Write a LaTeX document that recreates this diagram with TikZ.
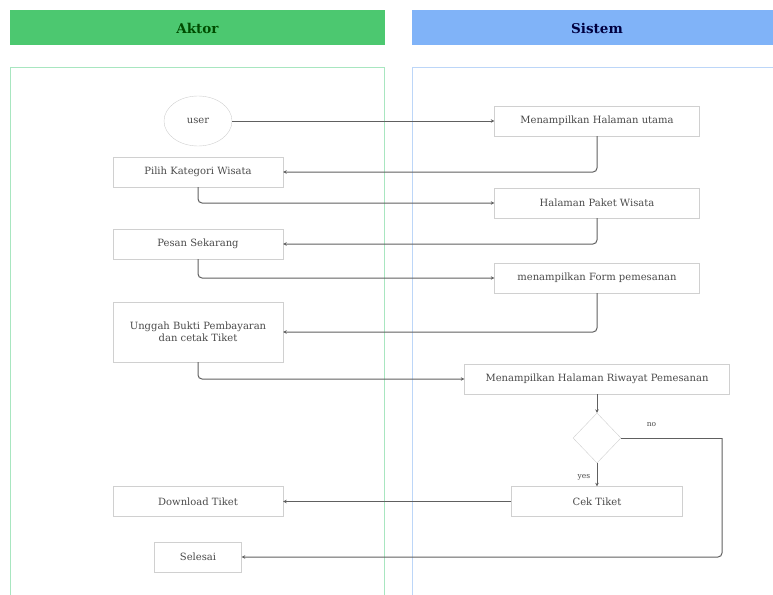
\documentclass[tikz,border=0pt]{standalone}
\usepackage{fontspec}
\setmainfont{DejaVu Serif}
\usetikzlibrary{shapes.geometric,arrows.meta}

\definecolor{aktorgreen}{HTML}{4CC870}
\definecolor{sistemblue}{HTML}{80B3F8}
\definecolor{lanegreen}{HTML}{A8E6C0}
\definecolor{laneblue}{HTML}{BCD6F8}
\definecolor{boxline}{HTML}{D0D0D0}
\definecolor{flowline}{HTML}{606060}
\definecolor{textgray}{HTML}{4A4A4A}

\tikzset{
  stepbox/.style={draw=boxline, fill=white, minimum height=30pt, inner sep=2pt,
    text=textgray, font=\fontsize{10}{12.5}\selectfont, align=center},
  flow/.style={draw=flowline, line width=1pt, rounded corners=4pt,
    -{Stealth[length=3.5pt,width=3.5pt]}},
  flowplain/.style={draw=flowline, line width=1pt, rounded corners=4pt},
  choice/.style={font=\fontsize{7.5}{9}\selectfont, text=textgray}
}

\begin{document}
\begin{tikzpicture}[x=1pt, y=-1pt]
    \useasboundingbox (0, 0) rectangle (773, 594);
    % lanes
    \fill [aktorgreen] (10, 10) rectangle (385, 45);
    \fill [sistemblue] (412, 10) rectangle (773, 45);
    \node [font=\bfseries\fontsize{13.5}{15}\selectfont, text=black!70!green] (aktor) at (197.5, 28) {Aktor};
    \node [font=\bfseries\fontsize{13.5}{15}\selectfont, text=blue!25!black] (sistem) at (597, 28) {Sistem};
    \draw [lanegreen, line width=1pt] (10, 600) -- (10, 67) -- (384, 67) -- (384, 600);
    \draw [laneblue, line width=1pt] (412, 600) -- (412, 67) -- (780, 67);

    % aktor side
    \node [draw=boxline, ellipse, minimum width=68pt, minimum height=50pt, text=textgray,
      font=\fontsize{10}{12.5}\selectfont] (user) at (198, 121) {user};
    \node [stepbox, minimum width=170pt] (pilih) at (198, 172) {Pilih Kategori Wisata};
    \node [stepbox, minimum width=170pt] (pesan) at (198, 244) {Pesan Sekarang};
    \node [stepbox, minimum width=170pt, minimum height=60pt] (unggah) at (198, 332)
      {Unggah Bukti Pembayaran\\dan cetak Tiket};
    \node [stepbox, minimum width=170pt] (download) at (198, 501.5) {Download Tiket};
    \node [stepbox, minimum width=87pt] (selesai) at (198, 557) {Selesai};

    % sistem side
    \node [stepbox, minimum width=205pt] (utama) at (597, 121) {Menampilkan Halaman utama};
    \node [stepbox, minimum width=205pt] (paket) at (597, 203) {Halaman Paket Wisata};
    \node [stepbox, minimum width=205pt] (form) at (597, 278) {menampilkan Form pemesanan};
    \node [stepbox, minimum width=265pt] (riwayat) at (597, 379) {Menampilkan Halaman Riwayat Pemesanan};
    \node [draw=boxline, diamond, minimum width=48pt, minimum height=50pt, inner sep=0pt] (cek) at (597, 438) {};
    \node [stepbox, minimum width=171pt] (tiket) at (597, 501.5) {Cek Tiket};
    \coordinate (noturn) at (722, 438);

    % flow
    \draw [flow] (user) -- (utama);
    \draw [flow] (utama.south) |- (pilih.east);
    \draw [flow] (pilih.south) |- (paket.west);
    \draw [flow] (paket.south) |- (pesan.east);
    \draw [flow] (pesan.south) |- (form.west);
    \draw [flow] (form.south) |- (unggah.east);
    \draw [flow] (unggah.south) |- (riwayat.west);
    \draw [flow] (riwayat) -- (cek);
    \draw [flow] (cek) -- (tiket) node [choice, pos=0.6, left=3pt] {yes};
    \draw [flowplain] (cek.east) -- (noturn) node [choice, pos=0.3, above=8pt] {no};
    \draw [flow] (noturn) |- (selesai.east);
    \draw [flow] (tiket) -- (download);
  \end{tikzpicture}
\end{document}
